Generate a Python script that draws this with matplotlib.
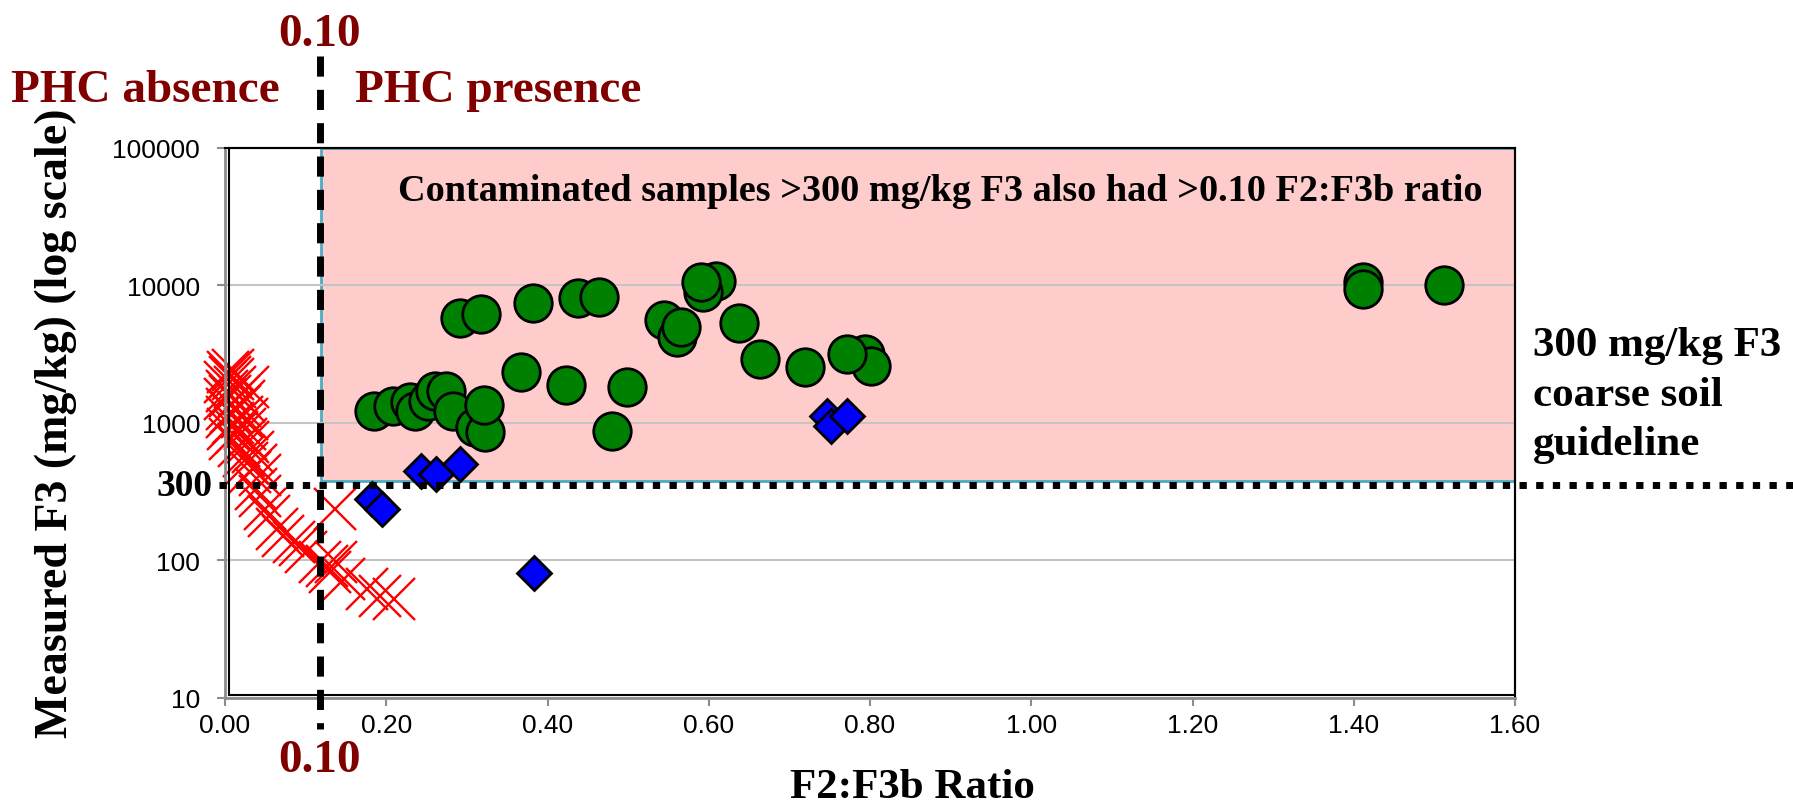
import matplotlib
matplotlib.use('Agg')
import matplotlib.pyplot as plt
import matplotlib.transforms as mtransforms
from matplotlib.patches import Rectangle
from matplotlib.ticker import NullLocator

# F2:F3b ratio / measured F3 (mg/kg)
absent_x = [0.004, 0.006, 0.000, 0.010, 0.002, 0.012, 0.000, 0.006, 0.017, 0.002,
            0.008, 0.019, 0.023, 0.010, 0.021, 0.004, 0.027, 0.015, 0.025, 0.006,
            0.029, 0.017, 0.023, 0.035, 0.027, 0.039, 0.031, 0.043, 0.039, 0.029,
            0.044, 0.050, 0.054, 0.064, 0.072, 0.085, 0.093, 0.101, 0.118, 0.126,
            0.130, 0.138, 0.147, 0.176, 0.192, 0.209, 0.137, 0.026, 0.010, 0.003]
absent_y = [2330, 2140, 1968, 2080, 1714, 1811, 1490, 1575, 1575, 1260,
            1191, 1333, 1450, 1000, 1095, 900, 1063, 851, 900, 760,
            719, 676, 577, 608, 513, 490, 437, 414, 330, 1810,
            295, 236, 211, 169, 151, 135, 128, 114, 97, 91,
            82, 97, 73, 62, 55, 52, 236, 760, 2420, 1100]

low_x = [0.182, 0.195, 0.243, 0.262, 0.291, 0.383, 0.747, 0.752, 0.772]
low_y = [280, 235, 443, 424, 501, 81, 1125, 950, 1125]

high_x = [0.185, 0.208, 0.229, 0.236, 0.252, 0.260, 0.274, 0.283, 0.310, 0.323,
          0.321, 0.292, 0.318, 0.382, 0.438, 0.464, 0.367, 0.423, 0.499, 0.480,
          0.545, 0.561, 0.565, 0.609, 0.593, 0.591, 0.638, 0.663, 0.719, 0.794,
          0.801, 0.771, 1.411, 1.411, 1.512]
high_y = [1210, 1330, 1405, 1220, 1445, 1710, 1690, 1220, 926, 851,
          1350, 5740, 6170, 7380, 8040, 8240, 2330, 1890, 1830, 865,
          5580, 4220, 4940, 10800, 8880, 10500, 5310, 2900, 2550, 3160,
          2600, 3160, 10500, 9400, 10100]

x_ticks = [0.0, 0.2, 0.4, 0.6, 0.8, 1.0, 1.2, 1.4, 1.6]
y_ticks = [10, 100, 1000, 10000, 100000]

ratio_line = 0.118   # drawn position of the 0.10 ratio line
guide_line = 350     # drawn position of the 300 mg/kg guideline
box_bottom = 378

W, H = 1793, 804
serif = 'Liberation Serif'
sans = 'Liberation Sans'
dark_red = '#800000'


def fx(px):
    return px / W


def fy(py):
    return 1 - py / H


fig = plt.figure(figsize=(W / 100, H / 100), dpi=100)
ax = fig.add_axes([fx(225), fy(698.7), (1515 - 225) / W, (698.7 - 148.7) / H])

ax.set_xlim(0, 1.6)
ax.set_yscale('log')
ax.set_ylim(10, 100000)

# shaded "contaminated" region
ax.add_patch(Rectangle((ratio_line + 0.001, box_bottom), 1.6 - ratio_line - 0.001,
                       100000 - box_bottom, facecolor='#FFCCCC',
                       edgecolor='#4BACC6', lw=2, zorder=0.2))

ax.set_axisbelow(True)
ax.yaxis.grid(True, color='#C4C4C4', lw=1.5)
ax.xaxis.grid(False)

ax.plot(absent_x, absent_y, 'x', color='#FF0000', ms=30, mew=1.7, zorder=2,
        clip_on=False)
ax.plot(low_x, low_y, 'D', mfc='#0000FF', mec='black', ms=17, mew=2, zorder=3)
ax.plot(high_x, high_y, 'o', mfc='#008000', mec='black', ms=27, mew=2, zorder=3)

# threshold lines
trans_v = mtransforms.blended_transform_factory(ax.transData, ax.transAxes)
ax.plot([ratio_line, ratio_line], [1.167, -0.057], transform=trans_v, color='black',
        lw=5, linestyle=(0, (2.9, 1.9)), clip_on=False, zorder=5)
trans_h = mtransforms.blended_transform_factory(ax.transAxes, ax.transData)
ax.plot([-0.005, 1.216], [guide_line, guide_line], transform=trans_h, color='black',
        lw=5, linestyle=(0, (1.05, 1.35)), clip_on=False, zorder=5)

# frame
for s in ['left', 'bottom']:
    ax.spines[s].set_color('#8C8C8C')
    ax.spines[s].set_linewidth(2)
for s in ['top', 'right']:
    ax.spines[s].set_color('black')
    ax.spines[s].set_linewidth(1.5)
ax.add_patch(Rectangle((4 / 1290, 2.5 / 550), 1 - 4 / 1290, 1 - 2.5 / 550,
                       transform=ax.transAxes, fill=False, edgecolor='black',
                       lw=1.5, zorder=4, clip_on=False))

ax.set_xticks(x_ticks)
ax.set_xticklabels([f'{v:.2f}' for v in x_ticks], fontfamily=sans)
ax.set_yticks(y_ticks)
ax.set_yticklabels([str(v) for v in y_ticks], fontfamily=sans)
ax.yaxis.set_minor_locator(NullLocator())
ax.tick_params(axis='both', colors='#8C8C8C', length=6, width=1.5, labelsize=19,
               labelcolor='black')
ax.tick_params(axis='x', pad=5)
ax.tick_params(axis='y', pad=12)

ax.text(-0.010, guide_line, '300', transform=trans_h, ha='right', va='center',
        fontfamily=serif, fontweight='bold', fontsize=27)

# annotations
fig.text(fx(320), fy(46), '0.10', ha='center', va='baseline', color=dark_red,
         fontfamily=serif, fontweight='bold', fontsize=34)
fig.text(fx(320), fy(772), '0.10', ha='center', va='baseline', color=dark_red,
         fontfamily=serif, fontweight='bold', fontsize=34)
fig.text(fx(11), fy(102), 'PHC absence', ha='left', va='baseline', color=dark_red,
         fontfamily=serif, fontweight='bold', fontsize=34)
fig.text(fx(355), fy(102), 'PHC presence', ha='left', va='baseline', color=dark_red,
         fontfamily=serif, fontweight='bold', fontsize=34)
fig.text(fx(940), fy(201), 'Contaminated samples >300 mg/kg F3 also had >0.10 F2:F3b ratio',
         ha='center', va='baseline', fontfamily=serif, fontweight='bold', fontsize=27.5)
fig.text(fx(1533), fy(327), '300 mg/kg F3\ncoarse soil\nguideline', ha='left', va='top',
         fontfamily=serif, fontweight='bold', fontsize=31, linespacing=1.4)

fig.text(fx(912), fy(798), 'F2:F3b Ratio', ha='center', va='baseline',
         fontfamily=serif, fontweight='bold', fontsize=31)
fig.text(fx(56), fy(423), 'Measured F3 (mg/kg) (log scale)', ha='center', va='center',
         rotation=90, fontfamily=serif, fontweight='bold', fontsize=33)

fig.savefig('out.png', dpi=100)
